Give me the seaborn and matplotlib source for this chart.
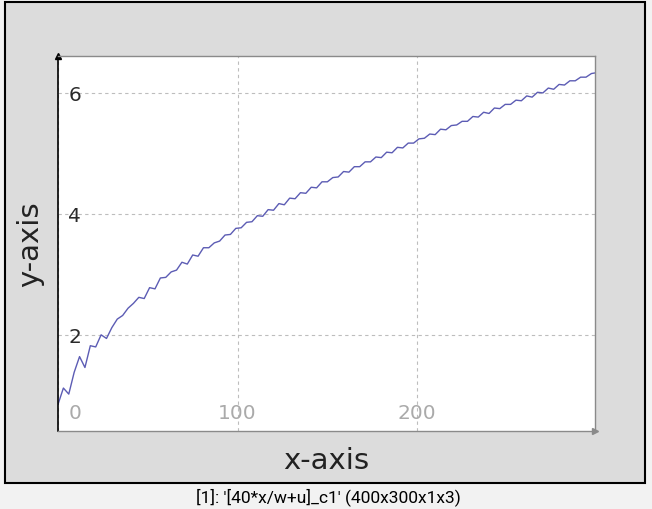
import numpy as np
import pandas as pd
import matplotlib
matplotlib.use("Agg")
import matplotlib.pyplot as plt
import matplotlib.transforms as mtransforms
from matplotlib.patches import Rectangle
import seaborn as sns

# -----------------------------
# DATA
# -----------------------------

x_vals = list(range(0, 300, 3)) + [299]

y_vals = [
    0.85, 1.12, 1.02, 1.38, 1.64, 1.46, 1.82, 1.80, 2.00, 1.94,
    2.12, 2.26, 2.32, 2.44, 2.52, 2.62, 2.60, 2.78, 2.76, 2.94,
    2.95, 3.04, 3.07, 3.20, 3.17, 3.32, 3.30, 3.44, 3.44, 3.52,
    3.55, 3.65, 3.66, 3.76, 3.77, 3.86, 3.87, 3.97, 3.96, 4.07,
    4.06, 4.17, 4.15, 4.26, 4.25, 4.35, 4.34, 4.44, 4.43, 4.53,
    4.53, 4.60, 4.61, 4.70, 4.69, 4.78, 4.78, 4.86, 4.86, 4.94,
    4.93, 5.02, 5.01, 5.10, 5.09, 5.17, 5.17, 5.24, 5.25, 5.32,
    5.31, 5.40, 5.39, 5.46, 5.47, 5.53, 5.53, 5.61, 5.60, 5.68,
    5.66, 5.75, 5.74, 5.81, 5.81, 5.88, 5.87, 5.95, 5.93, 6.01,
    6.00, 6.08, 6.06, 6.14, 6.13, 6.20, 6.20, 6.26, 6.26, 6.32,
    6.33,
]

x_ticks = [0, 100, 200]
y_ticks = [2, 4, 6]
x_range = (0, 299)
y_range = (0.41, 6.61)

caption = "[1]: '[40*x/w+u]_c1' (400x300x1x3)"

df = pd.DataFrame({"x": x_vals, "y": y_vals})

# -----------------------------
# FIGURE
# -----------------------------

sns.set_style("white")
plt.rcParams["font.family"] = ["DejaVu Sans"]

W, H = 652, 510
fig = plt.figure(figsize=(W / 100, H / 100), dpi=100, facecolor="#f2f2f2")

# gray display panel
fig.patches.append(Rectangle((5 / W, 1 - 484 / H), 640 / W, 481 / H,
                             transform=fig.transFigure, facecolor="#dcdcdc",
                             edgecolor="black", lw=1.5, zorder=-1))

ax = fig.add_axes([58 / W, 1 - 432 / H, (595 - 58) / W, (432 - 57) / H])
ax.set_facecolor("white")

sns.lineplot(data=df, x="x", y="y", ax=ax, color="#5c5cb4", linewidth=1.0)

ax.set_xlim(*x_range)
ax.set_ylim(*y_range)
ax.set_xticks(x_ticks)
ax.set_yticks(y_ticks)

ax.grid(True, color="#bdbdbd", linestyle=(0, (3, 3)), linewidth=0.8)

for side in ["top", "right", "bottom"]:
    ax.spines[side].set_color("#8a8a8a")
    ax.spines[side].set_linewidth(1.0)
ax.spines["left"].set_color("black")
ax.spines["left"].set_linewidth(1.2)

# tick labels sit inside the plot area
ax.tick_params(axis="y", direction="in", length=2, width=1.5, color="black",
               pad=-7.5, labelsize=14.5, labelcolor="#2a2a2a")
for lab in ax.get_yticklabels():
    lab.set_ha("left")
ax.tick_params(axis="x", direction="in", length=0, pad=-6.5,
               labelsize=14.5, labelcolor="#aaaaaa")
for lab in ax.get_xticklabels():
    lab.set_va("bottom")
first = ax.get_xticklabels()[0]
first.set_transform(first.get_transform() +
                    mtransforms.ScaledTranslation(17 / 100, 0, fig.dpi_scale_trans))

ax.set_xlabel("x-axis", fontsize=21, color="#222222", labelpad=10.5)
ax.set_ylabel("y-axis", fontsize=21, color="#222222", labelpad=10)

# little corner arrows
ax.plot([0], [1], marker="^", color="black", markersize=4,
        transform=ax.transAxes, clip_on=False)
ax.plot([1], [0], marker=">", color="#8a8a8a", markersize=4,
        transform=ax.transAxes, clip_on=False)

fig.text(328 / W, 1 - 497 / H, caption, ha="center", va="center",
         fontsize=12.5, family=["Roboto", "DejaVu Sans"], color="black")

plt.savefig("out.png", dpi=100, facecolor=fig.get_facecolor())
plt.close()
